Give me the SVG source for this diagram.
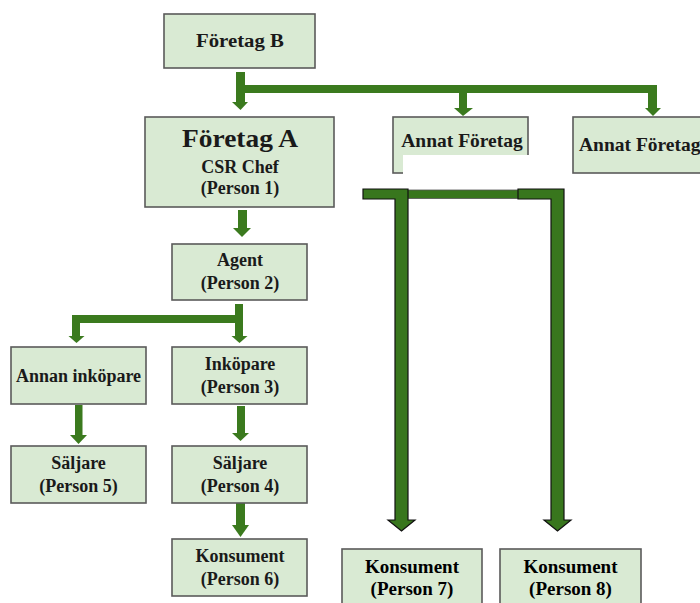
<svg xmlns="http://www.w3.org/2000/svg" width="700" height="603" viewBox="0 0 700 603">
<style>
.box{fill:#d9ead3;stroke:#5a5a5a;stroke-width:1.6}
.t{font-family:"Liberation Serif",serif;font-weight:bold;font-size:18px;fill:#1a1a1a;text-anchor:middle}
.tt{font-family:"Liberation Serif",serif;font-weight:bold;font-size:19px;fill:#000;text-anchor:middle}
.arr{fill:#3b7a1e}
.brk{fill:#38761d;stroke:#111;stroke-width:1.2}
</style>
<rect width="700" height="603" fill="#fff"/>
<g id="connectors">
  <rect class="arr" x="236" y="72" width="9" height="31"/>
  <polygon class="arr" points="232,102 248,102 240.5,110"/>
  <rect class="arr" x="236" y="85" width="421" height="8"/>
  <rect class="arr" x="459" y="92" width="8" height="17"/>
  <polygon class="arr" points="454,108 473,108 463,116"/>
  <rect class="arr" x="648" y="92" width="9" height="17"/>
  <polygon class="arr" points="645,108 661,108 653,116"/>
  <rect class="arr" x="238" y="210" width="9" height="19"/>
  <polygon class="arr" points="233,228 251,228 242,237"/>
  <rect class="arr" x="235" y="304" width="8" height="33"/>
  <rect class="arr" x="72" y="315" width="171" height="8"/>
  <rect class="arr" x="72" y="315" width="8" height="22"/>
  <polygon class="arr" points="68.5,336 84.5,336 76.5,343"/>
  <polygon class="arr" points="231.5,336 247.5,336 239.5,343"/>
  <rect class="arr" x="75" y="405" width="7.5" height="31"/>
  <polygon class="arr" points="70,435 87,435 78.5,444"/>
  <rect class="arr" x="237" y="406" width="8" height="28"/>
  <polygon class="arr" points="232,433 249,433 240.5,441"/>
  <rect class="arr" x="236" y="503" width="9" height="23"/>
  <polygon class="arr" points="232,525 249,525 240.5,537"/>
  <rect x="406" y="190" width="114" height="8.5" fill="#38761d" stroke="#555" stroke-width="0.8"/>
  <polygon class="brk" points="363,189 408,189 408,520 415,520 401.5,531 388,520 395,520 395,199 363,199"/>
  <polygon class="brk" points="518,189 564,189 564,520 571,520 557.5,531 544,520 551,520 551,199 518,199"/>
</g>
<g id="foretagB"><rect class="box" x="164" y="14" width="151" height="54"/><text class="t" x="240" y="47" textLength="88" lengthAdjust="spacingAndGlyphs">Företag B</text></g>
<g id="foretagA"><rect class="box" x="145" y="117" width="189" height="90"/>
  <text class="t" x="240" y="147" style="font-size:26px" textLength="116" lengthAdjust="spacingAndGlyphs">Företag A</text>
  <text class="t" x="240" y="173">CSR Chef</text>
  <text class="t" x="240" y="194">(Person 1)</text></g>
<g id="annat1"><rect class="box" x="393" y="117" width="135" height="56"/>
  <text class="t" x="462" y="147" style="font-size:19.5px">Annat Företag</text>
  <rect x="403" y="155" width="128" height="22" fill="#fff"/></g>
<g id="annat2"><rect class="box" x="573" y="117" width="140" height="56"/>
  <text class="t" x="579" y="151" style="font-size:19.5px;text-anchor:start">Annat Företag</text></g>
<g id="agent"><rect class="box" x="172" y="244" width="135" height="56"/>
  <text class="t" x="240" y="266">Agent</text><text class="t" x="240" y="289">(Person 2)</text></g>
<g id="annanInkopare"><rect class="box" x="11" y="347" width="135" height="57"/>
  <text class="t" x="78.5" y="382">Annan inköpare</text></g>
<g id="inkopare"><rect class="box" x="172" y="347" width="135" height="57"/>
  <text class="t" x="240" y="370">Inköpare</text><text class="t" x="240" y="393">(Person 3)</text></g>
<g id="saljare5"><rect class="box" x="11" y="446" width="135" height="57"/>
  <text class="t" x="78.5" y="469">Säljare</text><text class="t" x="78.5" y="492">(Person 5)</text></g>
<g id="saljare4"><rect class="box" x="172" y="446" width="135" height="57"/>
  <text class="t" x="240" y="469">Säljare</text><text class="t" x="240" y="492">(Person 4)</text></g>
<g id="konsument6"><rect class="box" x="172" y="539" width="135" height="57"/>
  <text class="t" x="240" y="562">Konsument</text><text class="t" x="240" y="585">(Person 6)</text></g>
<g id="konsument7"><rect class="box" x="342" y="549" width="140" height="62"/>
  <text class="tt" x="412" y="573">Konsument</text><text class="tt" x="412" y="595">(Person 7)</text></g>
<g id="konsument8"><rect class="box" x="500" y="549" width="141" height="62"/>
  <text class="tt" x="570.5" y="573">Konsument</text><text class="tt" x="570.5" y="595">(Person 8)</text></g>
</svg>
